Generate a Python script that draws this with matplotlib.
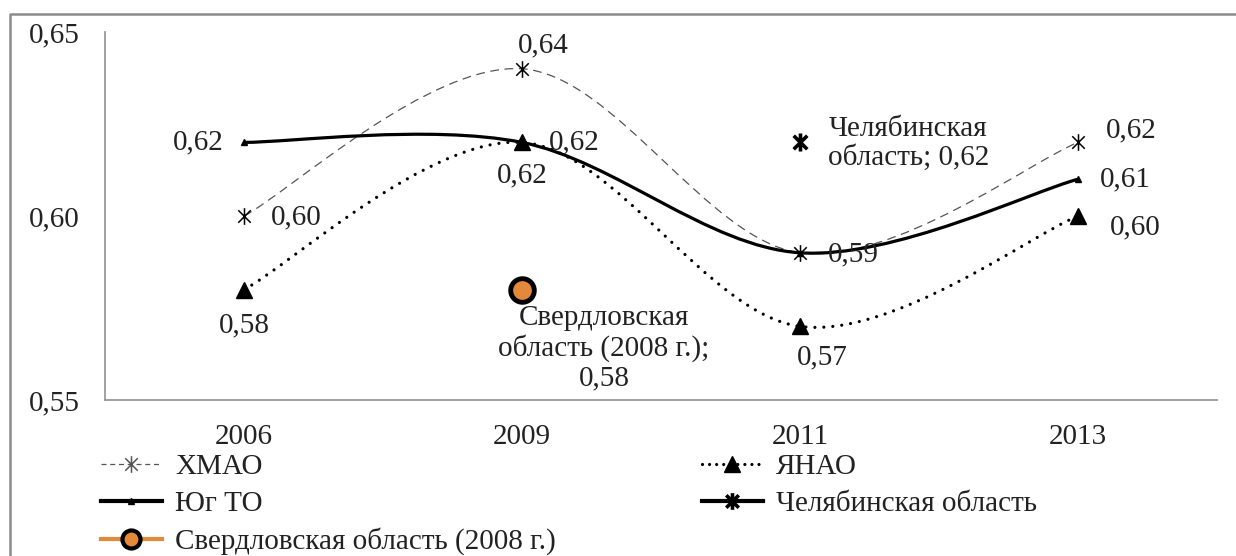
import numpy as np
import matplotlib.pyplot as plt
from matplotlib.path import Path
from matplotlib.patches import PathPatch
from matplotlib.lines import Line2D

plt.rcParams['font.family'] = ['Liberation Serif', 'DejaVu Serif']
plt.rcParams['font.size'] = 21

years = ['2006', '2009', '2011', '2013']
hmao = [0.60, 0.64, 0.59, 0.62]
yanao = [0.58, 0.62, 0.57, 0.60]
yug_to = [0.62, 0.62, 0.59, 0.61]
chel_year, chel_value = '2011', 0.62
sverd_year, sverd_value = '2009', 0.58

names = ['ХМАО', 'ЯНАО', 'Юг ТО', 'Челябинская область', 'Свердловская область (2008 г.)']
orange = '#E2893B'

# asterisk marker: vertical bar plus an X
star = Path([(0, -1), (0, 1), (-0.75, -0.75), (0.75, 0.75), (-0.75, 0.75), (0.75, -0.75)],
            [Path.MOVETO, Path.LINETO] * 3)


def fmt(v):
    return f'{v:.2f}'.replace('.', ',')


def smooth_path(xs, ys):
    """
    Excel-like smoothed line through the points
    """
    pts = np.column_stack([xs, ys]).astype(float)
    ext = np.vstack([pts[0], pts, pts[-1]])
    verts = [pts[0]]
    codes = [Path.MOVETO]
    for i in range(len(pts) - 1):
        p0, p1, p2, p3 = ext[i], ext[i + 1], ext[i + 2], ext[i + 3]
        verts += [p1 + (p2 - p0) / 6, p2 - (p3 - p1) / 6, p2]
        codes += [Path.CURVE4] * 3
    return Path(verts, codes)


fig = plt.figure(figsize=(12.36, 5.56), dpi=100)
ax = fig.add_axes([105 / 1236, 1 - 400 / 556, 1112 / 1236, 368 / 556])
x = np.arange(len(years))

ax.add_patch(PathPatch(smooth_path(x, hmao), fill=False, edgecolor='#555555', lw=0.9,
                       linestyle=(0, (7, 4.5))))
ax.add_patch(PathPatch(smooth_path(x, yanao), fill=False, edgecolor='black', lw=2.3,
                       linestyle=(0, (0.01, 2.8)), capstyle='round'))
ax.add_patch(PathPatch(smooth_path(x, yug_to), fill=False, edgecolor='black', lw=2.3))

ax.plot(x, hmao, ls='none', marker=star, ms=12, mew=1.1, color='black')
ax.plot(x, yanao, ls='none', marker='^', ms=11, color='black')
ax.plot(x, yug_to, ls='none', marker='^', ms=4, color='black')
ax.plot([years.index(chel_year)], [chel_value], ls='none', marker=star, ms=13, mew=2.6, color='black')
ax.plot([years.index(sverd_year)], [sverd_value], ls='none', marker='o', ms=17, mew=3.5,
        mfc=orange, mec='black')

ax.set_xlim(-0.5, len(years) - 0.5)
ax.set_ylim(0.55, 0.65)
ax.set_yticks([0.55, 0.60, 0.65])
ax.set_yticklabels([fmt(v) for v in [0.55, 0.60, 0.65]])
ax.set_xticks(x)
ax.set_xticklabels(years)
ax.tick_params(axis='y', length=0, pad=18, colors='#222222')
ax.tick_params(axis='x', length=0, pad=17, colors='#222222')
for s in ['top', 'right']:
    ax.spines[s].set_visible(False)
for s in ['left', 'bottom']:
    ax.spines[s].set_color('#9a9a9a')
    ax.spines[s].set_linewidth(1.3)


def label(xi, yv, dx, dy, ha='left', text=None, **kw):
    ax.annotate(text if text is not None else fmt(yv), (xi, yv), xytext=(dx, dy),
                textcoords='offset points', ha=ha, va='center', color='#222222', **kw)


# ХМАО
label(0, hmao[0], 19, -1)
label(1, hmao[1], 15, 17, ha='center')
label(2, hmao[2], 20, -1)
label(3, hmao[3], 20, 9)
# Юг ТО
label(0, yug_to[0], -15, 0, ha='right')
label(1, yug_to[1], 19, 0)
label(3, yug_to[3], 16, 0)
# ЯНАО
label(0, yanao[0], 0, -26, ha='center')
label(1, yanao[1], 0, -24, ha='center')
label(2, yanao[2], 16, -22, ha='center')
label(3, yanao[3], 23, -8)
# single points
label(years.index(chel_year), chel_value, 78, -1, ha='center',
      text='Челябинская\nобласть; ' + fmt(chel_value), linespacing=1.1, multialignment='center')
label(years.index(sverd_year), sverd_value, 59, -42, ha='center',
      text='Свердловская\nобласть (2008 г.);\n' + fmt(sverd_value), linespacing=1.15,
      multialignment='center')

handles = [
    Line2D([], [], color='#555555', lw=0.9, ls=(0, (4, 3)), marker=star, ms=12, mew=1.1,
           mec='#555555'),
    Line2D([], [], color='black', lw=2.3, ls=(0, (0.01, 2.2)), dash_capstyle='round',
           marker='^', ms=11),
    Line2D([], [], color='black', lw=3, marker='^', ms=4),
    Line2D([], [], color='black', lw=3, marker=star, ms=12, mew=2.6),
    Line2D([], [], color=orange, lw=3, marker='o', ms=13, mew=3, mfc=orange, mec='black'),
]
order = [0, 2, 4, 1, 3]
fig.legend([handles[i] for i in order], [names[i] for i in order], ncol=2,
           loc='upper left', bbox_to_anchor=(86 / 1236, 1 - 439 / 556), frameon=False,
           borderpad=0, handlelength=2.1, handletextpad=0.45, labelspacing=0.36,
           columnspacing=5.0, labelcolor='#222222')

# outer chart frame
fig.add_artist(Line2D([10 / 1236, 10 / 1236, 1.0], [0.0, 1 - 14 / 556, 1 - 14 / 556],
                      transform=fig.transFigure, color='#8a8a8a', lw=1.8))

fig.savefig('out.png', dpi=100)
